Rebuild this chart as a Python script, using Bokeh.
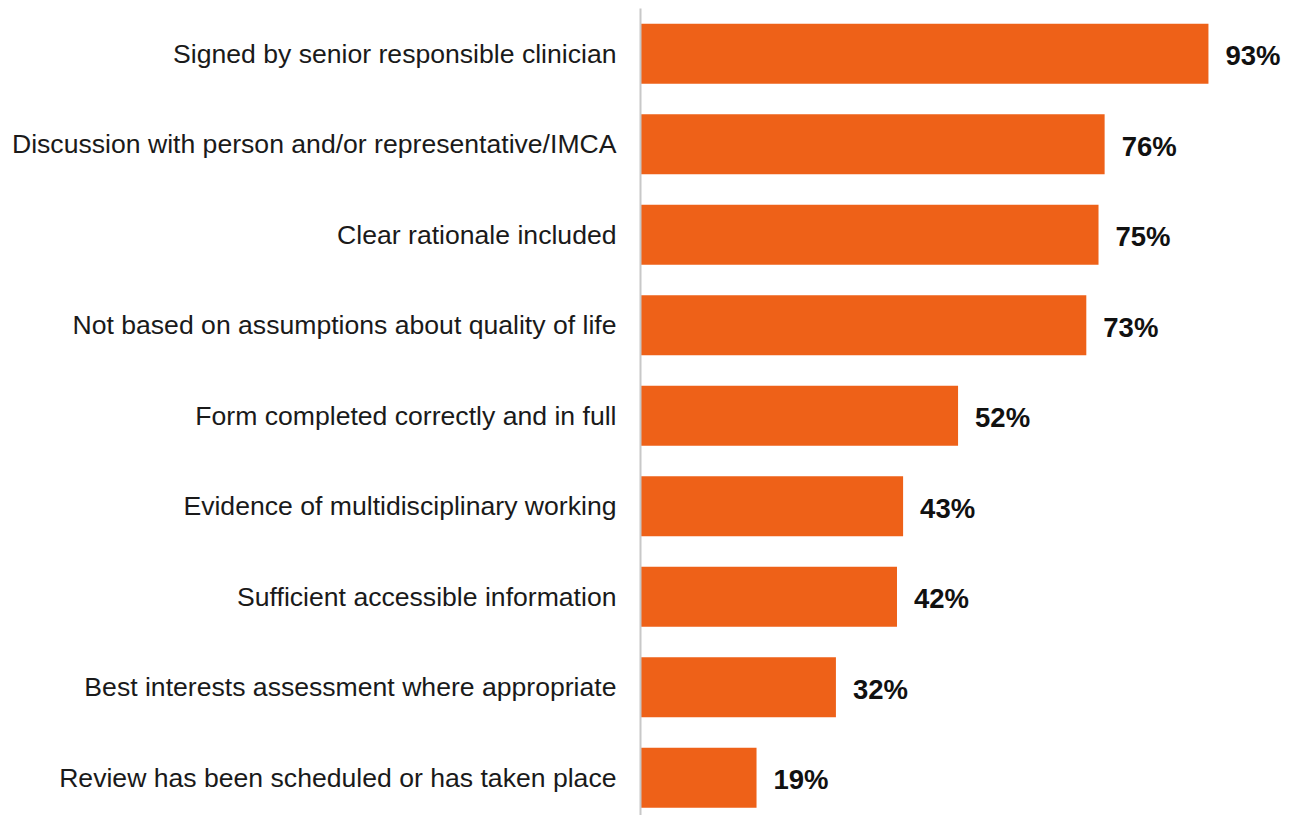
from bokeh.plotting import figure
from bokeh.models import ColumnDataSource, Range1d, FixedTicker
from bokeh.core.properties import value
from bokeh.embed import file_html
from bokeh.resources import INLINE

categories = [
    "Signed by senior responsible clinician",
    "Discussion with person and/or representative/IMCA",
    "Clear rationale included",
    "Not based on assumptions about quality of life",
    "Form completed correctly and in full",
    "Evidence of multidisciplinary working",
    "Sufficient accessible information",
    "Best interests assessment where appropriate",
    "Review has been scheduled or has taken place",
]
values = [93, 76, 75, 73, 52, 43, 42, 32, 19]
labels = [f"{v}%" for v in values]

pos = list(range(len(categories)))
src = ColumnDataSource(dict(y=pos, v=values, lab=labels))

p = figure(width=1291, height=815, output_backend="svg", toolbar_location=None,
           x_range=Range1d(0, 106.6), y_range=Range1d(8.417, -0.5),
           min_border_left=640, min_border_right=0, min_border_top=8, min_border_bottom=0)
p.outline_line_color = None
p.xgrid.visible = False
p.ygrid.visible = False
p.xaxis.visible = False

p.hbar(y="y", right="v", left=0, height=0.663, source=src,
       fill_color="#EE6118", line_color=None)
p.text(x="v", y="y", text="lab", source=src, x_offset=17, y_offset=2,
       text_baseline="middle", text_align="left",
       text_font=value("Liberation Sans"), text_font_style="bold",
       text_font_size="27.5px", text_color="#111111")

ax = p.yaxis[0]
ax.ticker = FixedTicker(ticks=pos)
ax.major_label_overrides = {i: c for i, c in zip(pos, categories)}
ax.major_tick_line_color = None
ax.minor_tick_line_color = None
ax.axis_line_color = "#C8C8C8"
ax.axis_line_width = 2
ax.major_label_standoff = 18
ax.major_label_text_font = "Liberation Sans"
ax.major_label_text_font_size = "26.6px"
ax.major_label_text_color = "#1a1a1a"

open("out.html", "w").write(file_html(p, INLINE))
